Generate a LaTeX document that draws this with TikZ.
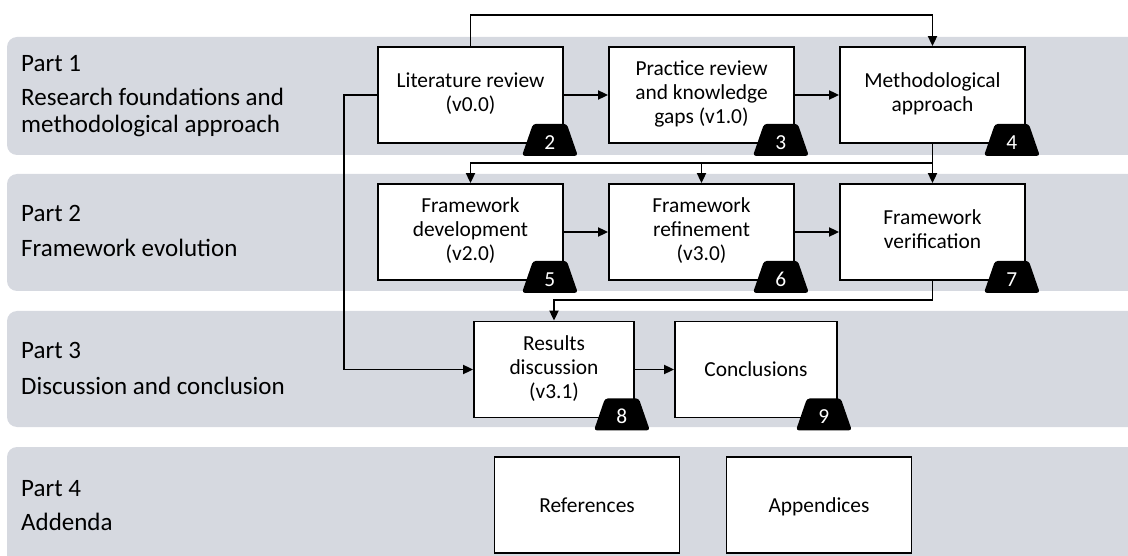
\documentclass[tikz,border=0pt]{standalone}
\usepackage{fontspec}
\setmainfont{Carlito}
\usetikzlibrary{arrows.meta,calc,shapes.geometric}
\definecolor{laneGrey}{RGB}{214,217,224}
\newcommand\partfont{\fontsize{25}{27}\selectfont}
\newcommand\boxfont{\fontsize{21.4}{24}\selectfont}

\begin{document}
\begin{tikzpicture}[x=1pt,y=-1pt,
  lane/.style={fill=laneGrey, draw=none, rounded corners=10pt},
  partlabel/.style={anchor=base west, inner sep=0pt, font=\partfont},
  chapter/.style={draw=black, line width=1.8pt, fill=white, align=center,
    font=\boxfont, minimum width=#1, minimum height=96pt, inner sep=2pt,
    execute at begin node=\rule{0pt}{19.5pt},
    execute at end node=\rule[-5.5pt]{0pt}{5.5pt}},
  chapter/.default=185pt,
  badge/.style={trapezium, trapezium stretches=true,
    trapezium left angle=79.4, trapezium right angle=79.4,
    minimum width=56pt, minimum height=32pt, inner sep=0pt,
    fill=black, draw=none, rounded corners=3pt,
    text=white, font=\boxfont, text height=19pt, text depth=0pt},
  link/.style={line width=1.8pt, -{Triangle[length=10pt,width=9pt]}}
]
\useasboundingbox (0,0) rectangle (1128,556);
\clip (0,0) rectangle (1128,556);

% horizontal lanes, one per part
\fill[lane] (7,37)  rectangle (1150,155);
\fill[lane] (7,174) rectangle (1150,291);
\fill[lane] (7,311) rectangle (1150,427);
\fill[lane] (7,447) rectangle (1150,566);

% part titles
\node[partlabel] (p1a) at (21,72)  {Part 1};
\node[partlabel] (p1b) at (21,106) {Research foundations and};
\node[partlabel] (p1c) at (21,133) {methodological approach};
\node[partlabel] (p2a) at (21,222) {Part 2};
\node[partlabel] (p2b) at (21,257) {Framework evolution};
\node[partlabel] (p3a) at (21,359) {Part 3};
\node[partlabel] (p3b) at (21,394) {Discussion and conclusion};
\node[partlabel] (p4a) at (21,496) {Part 4};
\node[partlabel] (p4b) at (21,530) {Addenda};

% chapters
\node[chapter] (lit)  at (470.5,95)  {Literature review\\(v0.0)};
\node[chapter] (prac) at (701.5,95)  {Practice review\\and knowledge\\gaps (v1.0)};
\node[chapter] (meth) at (932.5,95)  {Methodological\\approach};
\node[chapter] (fdev) at (470.5,232) {Framework\\development\\(v2.0)};
\node[chapter] (fref) at (701.5,232) {Framework\\refinement\\(v3.0)};
\node[chapter] (fver) at (932.5,232) {Framework\\verification};
\node[chapter=160pt] (res)  at (554,369.5) {Results\\discussion\\(v3.1)};
\node[chapter=162pt] (conc) at (756,369.5) {Conclusions};
\node[chapter] (refs) at (587,505)   {References};
\node[chapter] (app)  at (819,505)   {Appendices};

% chapter numbers
\node[badge] (b2) at ($(lit.south east)+(-14,-4)$)  {2};
\node[badge] (b3) at ($(prac.south east)+(-14,-4)$) {3};
\node[badge] (b4) at ($(meth.south east)+(-14,-4)$) {4};
\node[badge] (b5) at ($(fdev.south east)+(-14,-4)$) {5};
\node[badge] (b6) at ($(fref.south east)+(-14,-4)$) {6};
\node[badge] (b7) at ($(fver.south east)+(-14,-4)$) {7};
\node[badge] (b8) at ($(res.south east)+(-13,-4)$)  {8};
\node[badge] (b9) at ($(conc.south east)+(-14,-4)$) {9};

% routing rails
\coordinate (railTop) at (0,15);
\coordinate (railTwo) at (0,163);
\coordinate (railThree) at (0,300);
\coordinate (railLeft) at (344,0);

% flow between chapters
\draw[link] (lit.north) |- (meth.north |- railTop) -- (meth.north);
\draw[link] (lit) -- (prac);
\draw[link] (prac) -- (meth);
\draw[link] (lit.west) -- (railLeft |- lit.west) -- (railLeft |- res.west) -- (res.west);

\draw[link] (meth.south) -- (fver.north);
\draw[link] (meth.south |- railTwo) -| (fdev.north);
\draw[link] (fref.north |- railTwo) -- (fref.north);
\draw[link] (fdev) -- (fref);
\draw[link] (fref) -- (fver);

\draw[link] (fver.south) |- (res.north |- railThree) -- (res.north);
\draw[link] (res) -- (conc);
\end{tikzpicture}
\end{document}
